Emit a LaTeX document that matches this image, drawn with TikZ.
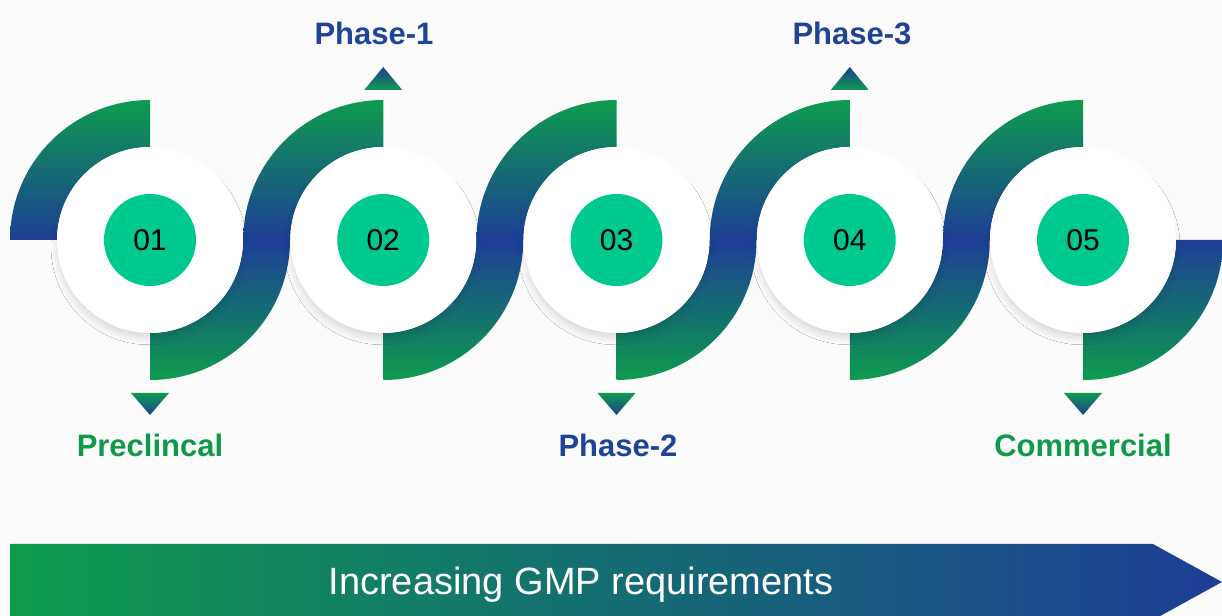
\documentclass[tikz,border=0pt]{standalone}
\usepackage{fontspec}
\setmainfont{Liberation Sans}
\usepackage{tikz}
\usetikzlibrary{shadings, shadows.blur}

\definecolor{gGreen}{RGB}{14,155,78}
\definecolor{gBlue}{RGB}{29,62,150}
\definecolor{numFill}{RGB}{0,201,143}
\definecolor{lblGreen}{RGB}{14,154,72}
\definecolor{lblBlue}{RGB}{30,67,151}
\definecolor{bgGray}{RGB}{251,251,251}

\begin{document}
\begin{tikzpicture} [x = 0.5pt, y = 0.5pt,
    ring/.style = {circle, fill = white, minimum size = 93pt, inner sep = 0pt,
      blur shadow = {shadow xshift = -0.5pt, shadow yshift = -3.5pt, shadow scale = 0.97, shadow blur radius = 4pt, shadow blur steps = 12, shadow opacity = 16}},
    num/.style = {circle, fill = numFill, minimum size = 46pt, inner sep = 0pt, font = \fontsize{15}{17}\selectfont},
    phase/.style = {font = \bfseries\fontsize{15.5}{18}\selectfont}]
\fill[bgGray] (0,0) rectangle (1222,616);
\clip (0,0) rectangle (1222,616);
\coordinate (p1) at (150,376);
\coordinate (p2) at (383.25,376);
\coordinate (p3) at (616.5,376);
\coordinate (p4) at (849.75,376);
\coordinate (p5) at (1083,376);
% S bands behind the rings
\foreach \i in {1,...,5}{
  \shade[top color = gGreen, bottom color = gBlue] (p\i) ++(180:140) arc[start angle = 180, end angle = 90, radius = 140] -- ++(0,-47) arc[start angle = 90, end angle = 180, radius = 93] -- cycle;
  \shade[top color = gBlue, bottom color = gGreen] (p\i) ++(0:140) arc[start angle = 0, end angle = -90, radius = 140] -- ++(0,47) arc[start angle = -90, end angle = 0, radius = 93] -- cycle;
}
\node[ring](r1) at (p1){}; \node[num](n1) at (p1){01};
\node[ring](r2) at (p2){}; \node[num](n2) at (p2){02};
\node[ring](r3) at (p3){}; \node[num](n3) at (p3){03};
\node[ring](r4) at (p4){}; \node[num](n4) at (p4){04};
\node[ring](r5) at (p5){}; \node[num](n5) at (p5){05};
% markers
\shade[top color = gGreen, bottom color = gBlue] (131,223) -- (169,223) -- (150,201) -- cycle;
\shade[top color = gGreen, bottom color = gBlue] (597.5,223) -- (635.5,223) -- (616.5,201) -- cycle;
\shade[top color = gGreen, bottom color = gBlue] (1064,223) -- (1102,223) -- (1083,201) -- cycle;
\shade[top color = gBlue, bottom color = gGreen] (364.25,526) -- (402.25,526) -- (383.25,549) -- cycle;
\shade[top color = gBlue, bottom color = gGreen] (830.75,526) -- (868.75,526) -- (849.75,549) -- cycle;
\node[phase, text = lblGreen](pre) at (150,171){Preclincal};
\node[phase, text = lblBlue](ph1) at (374,583){Phase-1};
\node[phase, text = lblBlue](ph2) at (618,171){Phase-2};
\node[phase, text = lblBlue](ph3) at (852,583){Phase-3};
\node[phase, text = lblGreen](com) at (1083,171){Commercial};
% bottom arrow
\shade[left color = gGreen, right color = gBlue] (10,72) -- (1153,72) -- (1222,34) -- (1153,-4) -- (10,-4) -- cycle;
\node[text = white, font = \fontsize{19}{22}\selectfont](gmp) at (581,31){Increasing GMP requirements};
\end{tikzpicture}
\end{document}
